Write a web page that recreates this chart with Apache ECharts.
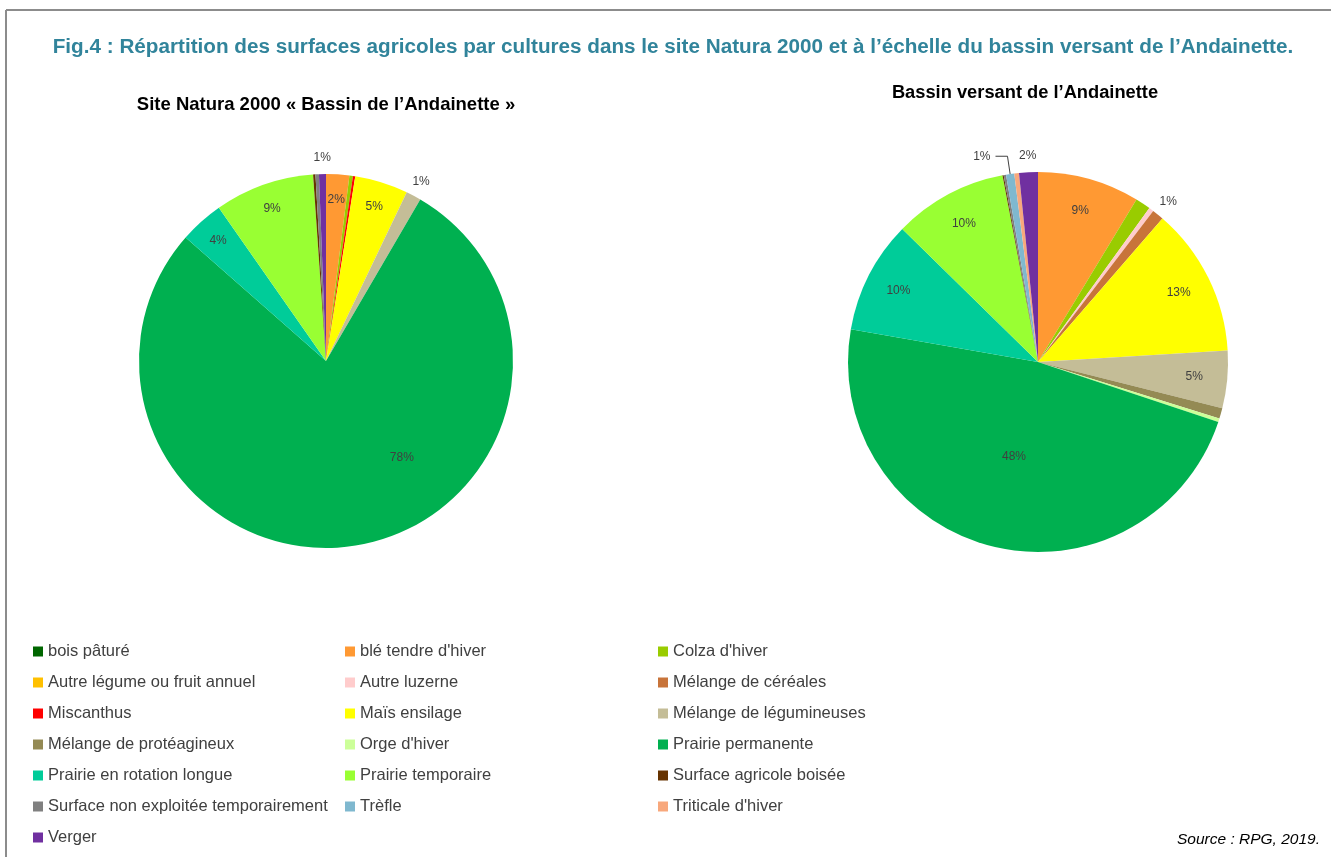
<!DOCTYPE html>
<html>
<head>
<meta charset="utf-8">
<script src="https://cdn.jsdelivr.net/npm/echarts@6/dist/echarts.min.js"></script>
<style>
  html, body { margin: 0; padding: 0; background: #fff; }
  #chart { width: 1331px; height: 857px; }
</style>
</head>
<body>
<div id="chart"></div>
<script>
// catégories (ordre de la légende et du tracé)
var categories = [
    "bois pâturé", "blé tendre d'hiver", "Colza d'hiver",
    "Autre légume ou fruit annuel", "Autre luzerne", "Mélange de céréales",
    "Miscanthus", "Maïs ensilage", "Mélange de légumineuses",
    "Mélange de protéagineux", "Orge d'hiver", "Prairie permanente",
    "Prairie en rotation longue", "Prairie temporaire", "Surface agricole boisée",
    "Surface non exploitée temporairement", "Trèfle", "Triticale d'hiver",
    "Verger"
];
// parts en %
var naturaValues = [0, 2.0, 0.3, 0, 0, 0, 0.2, 4.6, 1.3, 0, 0, 78.0, 3.8, 8.6, 0.2, 0.3, 0, 0, 0.6];
var bassinValues = [0, 8.7, 1.3, 0, 0.4, 1.0, 0, 12.7, 4.9, 0.9, 0.3, 47.8, 9.6, 9.7, 0.1, 0.2, 0.7, 0.4, 1.6];

var colors = [
    '#006600', '#FF9933', '#99CC00', '#FFC000', '#FFCCCC', '#C8743A', '#FF0000',
    '#FFFF00', '#C4BD97', '#948A54', '#CCFF99', '#00B050', '#00CC99', '#99FF33',
    '#663300', '#808080', '#7FB8CF', '#F8A87C', '#7030A0'
];

// étiquettes : quelles parts, à quelle distance du centre
var naturaLabels = {
    inner: ["blé tendre d'hiver", "Maïs ensilage", "Prairie en rotation longue", "Prairie temporaire"],
    center: ["Prairie permanente"],
    centerStart: 119, // Excel a décalé l'étiquette 78% vers la droite
    outer: ["Mélange de légumineuses", "Verger"],
    leader: []
};
var bassinLabels = {
    inner: ["blé tendre d'hiver", "Maïs ensilage", "Mélange de légumineuses", "Prairie en rotation longue", "Prairie temporaire"],
    center: ["Prairie permanente"],
    centerStart: 90,
    outer: ["Mélange de céréales", "Verger"],
    leader: ["Trèfle"]
};

var fontFam = "'Liberation Sans', Arial, sans-serif";
var labelStyle = { fontFamily: fontFam, fontSize: 12, color: '#404040' };

function pct(p) { return Math.round(p.percent) + '%'; }

function ringData(values, names) {
    return categories.map(function (c, i) {
        return {
            name: c,
            value: values[i],
            label: { show: names.indexOf(c) >= 0 }
        };
    });
}

// une part visible + des anneaux transparents qui portent les étiquettes
function makePie(center, r, values, labels, r0center, r0inner) {
    var main = {
        type: 'pie',
        center: center,
        radius: [0, r],
        startAngle: 90,
        clockwise: true,
        avoidLabelOverlap: false,
        itemStyle: { borderWidth: 0 },
        emphasis: { disabled: true },
        label: Object.assign({ position: 'outside', formatter: pct }, labelStyle),
        labelLine: { show: true, length: 18, length2: 12, lineStyle: { color: '#404040', width: 1 } },
        data: categories.map(function (c, i) {
            return {
                name: c,
                value: values[i],
                itemStyle: { color: colors[i] },
                label: { show: labels.leader.indexOf(c) >= 0 },
                labelLine: { show: labels.leader.indexOf(c) >= 0 }
            };
        })
    };
    function ring(r0, r1, names, start) {
        return {
            type: 'pie',
            center: center,
            radius: [r0, r1],
            startAngle: start,
            silent: true,
            avoidLabelOverlap: false,
            legendHoverLink: false,
            itemStyle: { color: 'rgba(0,0,0,0)', borderWidth: 0 },
            label: Object.assign({ position: 'inside', formatter: pct }, labelStyle),
            labelLine: { show: false },
            data: ringData(values, names)
        };
    }
    return [
        main,
        ring(r0inner * r, r, labels.inner, 90),
        ring(r0center * r, r, labels.center, labels.centerStart),
        ring(r, r * 1.14, labels.outer, 90)
    ];
}

var col1 = ["bois pâturé", "Autre légume ou fruit annuel", "Miscanthus", "Mélange de protéagineux",
    "Prairie en rotation longue", "Surface non exploitée temporairement", "Verger"];
var col2 = ["blé tendre d'hiver", "Autre luzerne", "Maïs ensilage", "Orge d'hiver",
    "Prairie temporaire", "Trèfle"];
var col3 = ["Colza d'hiver", "Mélange de céréales", "Mélange de légumineuses", "Prairie permanente",
    "Surface agricole boisée", "Triticale d'hiver"];

function legendCol(left, names) {
    return {
        orient: 'vertical',
        left: left,
        top: 643,
        padding: 0,
        itemWidth: 10,
        itemHeight: 10,
        itemGap: 14,
        icon: 'rect',
        selectedMode: false,
        textStyle: { fontFamily: fontFam, fontSize: 16.5, color: '#404040', lineHeight: 16 },
        data: names
    };
}

var chart = echarts.init(document.getElementById('chart'));
var option = {
    backgroundColor: '#fff',
    animation: false,
    title: [
        {
            text: "Fig.4 : Répartition des surfaces agricoles par cultures dans le site Natura 2000 et à l’échelle du bassin versant de l’Andainette.",
            left: 668, top: 32, textAlign: 'center',
            textStyle: { fontFamily: fontFam, fontSize: 20.7, fontWeight: 'bold', color: '#31849B' }
        },
        {
            text: "Site Natura 2000 « Bassin de l’Andainette »",
            left: 321, top: 90, textAlign: 'center',
            textStyle: { fontFamily: fontFam, fontSize: 18.5, fontWeight: 'bold', color: '#000' }
        },
        {
            text: "Bassin versant de l’Andainette",
            left: 1020, top: 79, textAlign: 'center',
            textStyle: { fontFamily: fontFam, fontSize: 18.3, fontWeight: 'bold', color: '#000' }
        },
        {
            text: "Source : RPG, 2019.",
            right: 6, top: 827,
            textStyle: { fontFamily: fontFam, fontSize: 15.5, fontStyle: 'italic', fontWeight: 'normal', color: '#000' }
        }
    ],
    legend: [legendCol(33, col1), legendCol(345, col2), legendCol(658, col3)],
    graphic: [
        { type: 'line', shape: { x1: 6, y1: 10, x2: 1331, y2: 10 }, style: { stroke: '#8c8c8c', lineWidth: 2 } },
        { type: 'line', shape: { x1: 6, y1: 10, x2: 6, y2: 857 }, style: { stroke: '#8c8c8c', lineWidth: 2 } }
    ],
    series: [].concat(
        makePie([326, 361], 187, naturaValues, naturaLabels, 0.28, 0.7),
        makePie([1038, 362], 190, bassinValues, bassinLabels, 0, 0.62)
    )
};
chart.setOption(option);
</script>
</body>
</html>
